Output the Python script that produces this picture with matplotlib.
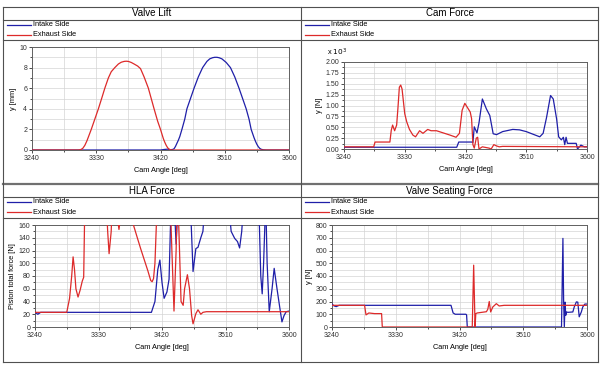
import numpy as np
import matplotlib.pyplot as plt
from matplotlib.lines import Line2D
from matplotlib.ticker import MultipleLocator, FormatStrFormatter

plt.rcParams['font.family'] = ['Liberation Sans', 'DejaVu Sans']

# ---- data (cam angle in deg) ----
lift_int_deg = [3240, 3420, 3425, 3430, 3434, 3437, 3439, 3441, 3443, 3445, 3447, 3450, 3454, 3457, 3462,
                3467, 3473, 3479, 3485, 3489, 3493, 3496, 3499, 3502, 3506, 3512, 3518, 3524, 3530, 3535,
                3540, 3544, 3547, 3551, 3553, 3555, 3557, 3559, 3561, 3564, 3568, 3600]
lift_int = [0, 0, 0.05, 0.08, 0.03, 0.05, 0.12, 0.35, 0.65, 0.95, 1.3, 2.0, 3.0, 4.0, 5.0,
            6.0, 7.1, 8.0, 8.6, 8.85, 8.96, 9.0, 9.0, 8.96, 8.85, 8.5, 8.0, 7.1, 6.0, 5.0,
            4.0, 3.0, 2.0, 1.2, 0.85, 0.55, 0.32, 0.16, 0.07, 0.02, 0, 0]
lift_exh_deg = [3240, 3305, 3308, 3311, 3314, 3317, 3320, 3323, 3328, 3333, 3338, 3342, 3347, 3351, 3356,
                3361, 3365, 3369, 3372, 3375, 3379, 3383, 3388, 3392, 3397, 3403, 3407, 3411, 3416, 3420,
                3424, 3426, 3428, 3430, 3432, 3434, 3436, 3600]
lift_exh = [0, 0, 0.03, 0.15, 0.45, 0.9, 1.45, 2.0, 3.0, 4.0, 5.1, 6.0, 7.0, 7.6, 8.0,
            8.35, 8.52, 8.6, 8.62, 8.6, 8.5, 8.35, 8.15, 7.9, 7.1, 6.0, 5.0, 4.0, 2.8, 2.0,
            1.1, 0.75, 0.45, 0.22, 0.08, 0.02, 0, 0]

# cam force in N x 10^3
cf_int_deg = [3240, 3407, 3410, 3429, 3431, 3433, 3437, 3440, 3445, 3451, 3456, 3461, 3466, 3475, 3490,
              3500, 3510, 3520, 3530, 3535, 3540, 3546, 3550, 3555, 3558, 3562, 3565, 3567, 3569, 3571,
              3584, 3586, 3591, 3596, 3600]
cf_int = [0.04, 0.04, 0.16, 0.16, 0.15, 0.51, 0.37, 0.6, 1.15, 0.92, 0.77, 0.35, 0.33, 0.4, 0.45,
          0.44, 0.4, 0.34, 0.28, 0.36, 0.72, 1.23, 1.15, 0.69, 0.28, 0.21, 0.27, 0.1, 0.27, 0.13,
          0.13, 0.0, 0.09, 0.05, 0.05]
cf_exh_deg = [3240, 3284, 3286, 3308, 3310, 3312, 3315, 3318, 3320, 3322, 3324, 3326, 3330, 3333, 3337,
              3342, 3346, 3352, 3357, 3364, 3369, 3377, 3387, 3397, 3406, 3411, 3415, 3419, 3423, 3427,
              3429, 3431, 3433, 3436, 3438, 3440, 3445, 3455, 3458, 3462, 3466, 3470, 3475, 3600]
cf_exh = [0.05, 0.05, 0.16, 0.16, 0.43, 0.55, 0.42, 0.55, 0.96, 1.42, 1.47, 1.38, 0.81, 0.62, 0.45,
          0.32, 0.28, 0.42, 0.36, 0.45, 0.42, 0.42, 0.37, 0.32, 0.27, 0.36, 0.89, 1.05, 0.95, 0.85,
          0.7, 0.1, 0.02, 0.25, 0.27, 0.0, 0.05, 0.02, 0.0, 0.1, 0.07, 0.05, 0.06, 0.05]

hla_int_deg = [3240, 3244, 3248, 3405, 3410, 3414, 3417, 3420, 3423, 3427, 3430, 3433, 3437, 3440, 3443,
               3460, 3464, 3468, 3471, 3475, 3478, 3481, 3514, 3518, 3523, 3527, 3530, 3533, 3536, 3557,
               3560, 3562, 3564, 3567, 3569, 3572, 3576, 3579, 3583, 3587, 3590, 3593, 3596, 3600]
hla_int = [23, 20, 23, 23, 40, 90, 105, 70, 45, 55, 75, 200, 200, 130, 200,
           200, 87, 123, 125, 140, 150, 200, 200, 150, 139, 134, 124, 150, 200, 200,
           80, 52, 100, 200, 100, 24, 60, 92, 60, 30, 8, 18, 24, 25]
hla_exh_deg = [3240, 3285, 3289, 3292, 3294, 3296, 3298, 3301, 3304, 3307, 3309, 3311, 3340, 3343, 3345,
               3348, 3350, 3357, 3359, 3361, 3376, 3379, 3385, 3390, 3395, 3400, 3404, 3406, 3408, 3410,
               3412, 3414, 3431, 3434, 3437, 3440, 3442, 3444, 3447, 3450, 3452, 3456, 3459, 3462, 3464,
               3468, 3471, 3475, 3478, 3483, 3600]
hla_exh = [23, 23, 45, 80, 110, 90, 60, 47, 58, 72, 78, 220, 220, 150, 115,
           150, 220, 170, 153, 170, 200, 162, 140, 122, 105, 88, 73, 71, 76, 100,
           160, 220, 220, 120, 25, 120, 220, 150, 40, 34, 60, 82, 60, 18, 5,
           21, 27, 20, 23, 24, 24]

vs_int_deg = [3240, 3243, 3246, 3250, 3408, 3411, 3414, 3429, 3430, 3431, 3564, 3566, 3567, 3568, 3569,
              3570, 3571, 3573, 3580, 3582, 3585, 3587, 3589, 3592, 3594, 3597, 3600]
vs_int = [180, 165, 160, 170, 170, 110, 100, 100, 95, 0, 0, 695, 200, 0, 195,
          92, 118, 115, 118, 157, 197, 195, 80, 118, 157, 180, 180]
vs_exh_deg = [3240, 3286, 3288, 3292, 3300, 3310, 3311, 3438, 3440, 3442, 3443, 3445, 3458, 3460, 3462,
              3464, 3467, 3472, 3476, 3483, 3600]
vs_exh = [170, 170, 95, 110, 105, 105, 0, 0, 485, 0, 105, 110, 120, 140, 200,
          118, 157, 183, 165, 170, 170]

x_ticks = [3240, 3330, 3420, 3510, 3600]
series_names = ['Intake Side', 'Exhaust Side']
blue = '#1f1fa8'
red = '#dd2a2a'

W, H = 603, 366
fig = plt.figure(figsize=(W / 100, H / 100), dpi=100)
edge = '#505050'


def hline(x0, x1, y, lw=0.8, c=edge):
    fig.add_artist(Line2D([x0 / W, x1 / W], [1 - y / H, 1 - y / H], color=c, lw=lw,
                          transform=fig.transFigure))


def vline(x, y0, y1, lw=0.8, c=edge):
    fig.add_artist(Line2D([x / W, x / W], [1 - y0 / H, 1 - y1 / H], color=c, lw=lw,
                          transform=fig.transFigure))


def panel(px0, px1, py0, py1, ptitle, legend_y, box, ylabel, ylim, ymaj, ymin, data, fmt=None):
    # title band and legend band
    fig.text((px0 + px1) / 2 / W, 1 - (py0 + 6.5) / H, ptitle, ha='center', va='center', fontsize=7)
    hline(px0, px1, py0 + 12.5)
    hline(px0, px1, legend_y)
    for i, name in enumerate(series_names):
        yy = py0 + 17.5 + i * 10
        c = blue if i == 0 else red
        fig.add_artist(Line2D([(px0 + 4) / W, (px0 + 28) / W], [1 - yy / H, 1 - yy / H], color=c,
                              lw=0.9, transform=fig.transFigure))
        fig.text((px0 + 30) / W, 1 - (yy + 0.5) / H, name, ha='left', va='center', fontsize=5.3)

    l, r, t, b = box
    ax = fig.add_axes([l / W, 1 - b / H, (r - l) / W, (b - t) / H])
    (xi, yi), (xe, ye) = data
    ax.plot(xi, yi, color=blue, lw=0.9, zorder=3)
    ax.plot(xe, ye, color=red, lw=0.9, zorder=3)
    ax.set_xlim(3240, 3600)
    ax.set_ylim(*ylim)
    ax.set_xticks(x_ticks)
    ax.xaxis.set_minor_locator(MultipleLocator(45))
    ax.yaxis.set_major_locator(MultipleLocator(ymaj))
    ax.yaxis.set_minor_locator(MultipleLocator(ymin))
    if fmt:
        ax.yaxis.set_major_formatter(FormatStrFormatter(fmt))
    ax.grid(True, which='both', color='#d4d4d4', lw=0.5)
    ax.set_axisbelow(True)
    ax.tick_params(which='both', labelsize=5, colors='#303030', length=2.5, width=0.6, pad=1)
    ax.tick_params(which='minor', length=1.5)
    for s in ax.spines.values():
        s.set_color('#606060')
        s.set_linewidth(0.7)
    ax.set_xlabel('Cam Angle [deg]', fontsize=5.3, labelpad=4)
    ax.set_ylabel(ylabel, fontsize=5.3, labelpad=2)
    return ax


# outer frame and dividers
hline(3, 598, 7)
hline(3, 598, 184, lw=1.6, c='#707070')
hline(3, 598, 362)
vline(3, 7, 362)
vline(598, 7, 362)
vline(301, 7, 362)

panel(3, 301, 7, 184, 'Valve Lift', 40, (32, 289, 47, 150), 'y [mm]', (0, 10), 2, 1,
      [(lift_int_deg, lift_int), (lift_exh_deg, lift_exh)])
panel(301, 598, 7, 184, 'Cam Force', 40, (344, 587, 62, 149), 'y [N]', (0, 2), 0.25, 0.125,
      [(cf_int_deg, cf_int), (cf_exh_deg, cf_exh)], fmt='%.2f')
fig.text(337 / W, 1 - 52 / H, r'x $10^3$', fontsize=5.3, ha='center', va='center')
panel(3, 301, 184, 362, 'HLA Force', 218, (35, 289, 225, 327), 'Piston total force [N]', (0, 160), 20, 10,
      [(hla_int_deg, hla_int), (hla_exh_deg, hla_exh)])
panel(301, 598, 184, 362, 'Valve Seating Force', 218, (332, 587, 225, 327), 'y [N]', (0, 800), 100, 50,
      [(vs_int_deg, vs_int), (vs_exh_deg, vs_exh)])

fig.savefig('out.png', dpi=100)
